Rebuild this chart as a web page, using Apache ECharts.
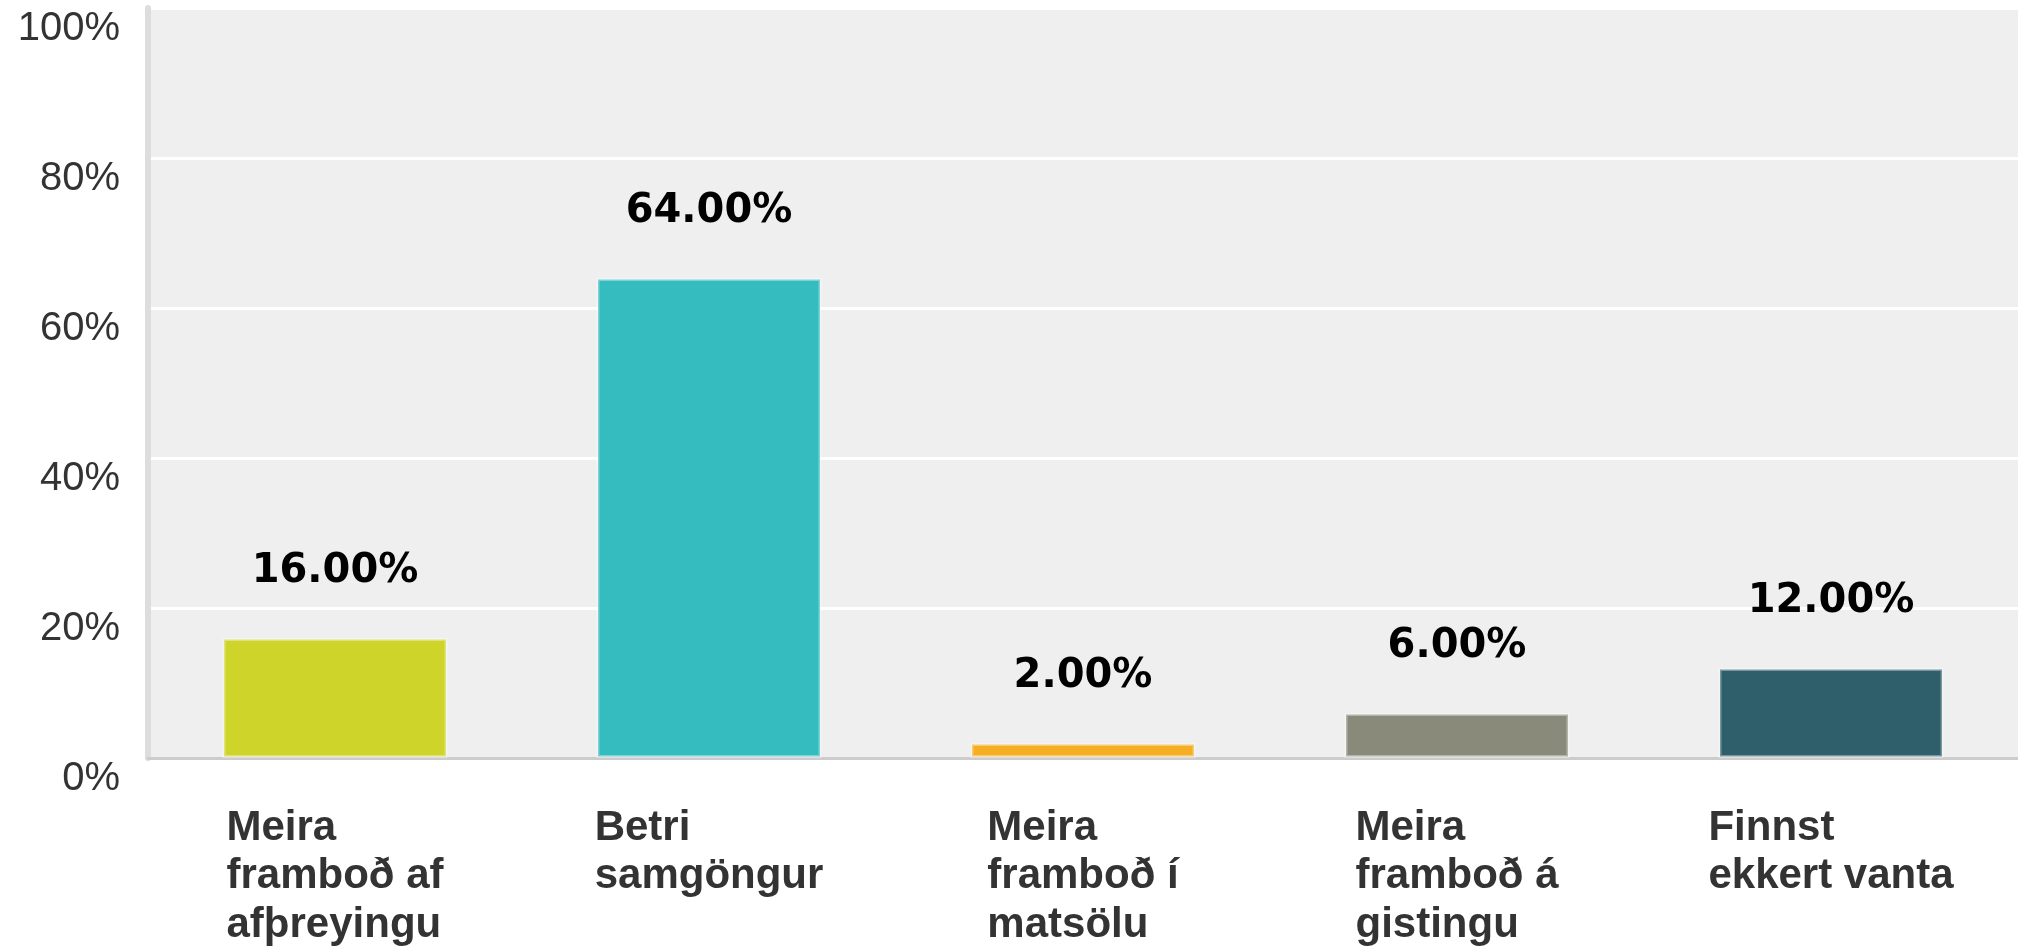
<!DOCTYPE html>
<html>
<head>
<meta charset="utf-8">
<script src="https://cdn.jsdelivr.net/npm/echarts@6/dist/echarts.min.js"></script>
<style>
html,body{margin:0;padding:0;background:#fff;}
#chart{width:2018px;height:948px;}
</style>
</head>
<body>
<div id="chart"></div>
<script>
const categories = ['Meira\nframboð af\nafþreyingu', 'Betri\nsamgöngur', 'Meira\nframboð í\nmatsölu', 'Meira\nframboð á\ngistingu', 'Finnst\nekkert vanta'];
const values = [16, 64, 2, 6, 12];
const barColors = ['#cfd42a', '#35bcbf', '#f6ae22', '#8a8a7a', '#2f5f6b'];
const yTicks = [0, 20, 40, 60, 80, 100];

const chart = echarts.init(document.getElementById('chart'), null, {renderer: 'canvas'});
chart.setOption({
  animation: false,
  backgroundColor: '#ffffff',
  grid: {left: 148, right: 0, top: 8, bottom: 190, show: true, backgroundColor: '#efefef', borderWidth: 0},
  xAxis: {
    type: 'category',
    data: categories,
    axisLine: {show: true, lineStyle: {color: '#cccccc', width: 3}},
    axisTick: {show: false},
    axisLabel: {
      margin: 46,
      interval: 0,
      formatter: function (v) {
        return v.split('\n').map(function (l) { return '{a|' + l + '}'; }).join('\n');
      },
      rich: {
        a: {align: 'left', fontFamily: 'Liberation Sans, Arial, sans-serif', fontSize: 42, fontWeight: 'bold', color: '#333333', lineHeight: 48.5}
      }
    }
  },
  yAxis: {
    type: 'value',
    min: 0,
    max: 100,
    interval: 20,
    axisLine: {show: true, lineStyle: {color: '#dddddd', width: 6}},
    axisTick: {show: false},
    splitLine: {show: true, lineStyle: {color: '#ffffff', width: 3}},
    axisLabel: {
      margin: 28,
      fontFamily: 'Liberation Sans, Arial, sans-serif',
      fontSize: 40,
      color: '#333333',
      verticalAlign: 'top',
      lineHeight: 42,
      formatter: function (v) { return yTicks.indexOf(v) >= 0 ? v + '%' : ''; }
    }
  },
  series: [{
    type: 'bar',
    barWidth: 225,
    data: values.map(function (v, i) {
      return {value: v, itemStyle: {color: barColors[i], borderColor: 'rgba(255,255,255,0.35)', borderWidth: 3}};
    }),
    label: {
      show: true,
      position: 'top',
      distance: 46,
      fontFamily: 'DejaVu Sans, Verdana, sans-serif',
      fontSize: 40,
      fontWeight: 'bold',
      color: '#000000',
      formatter: function (p) { return p.value.toFixed(2) + '%'; }
    }
  }]
});
</script>
</body>
</html>
